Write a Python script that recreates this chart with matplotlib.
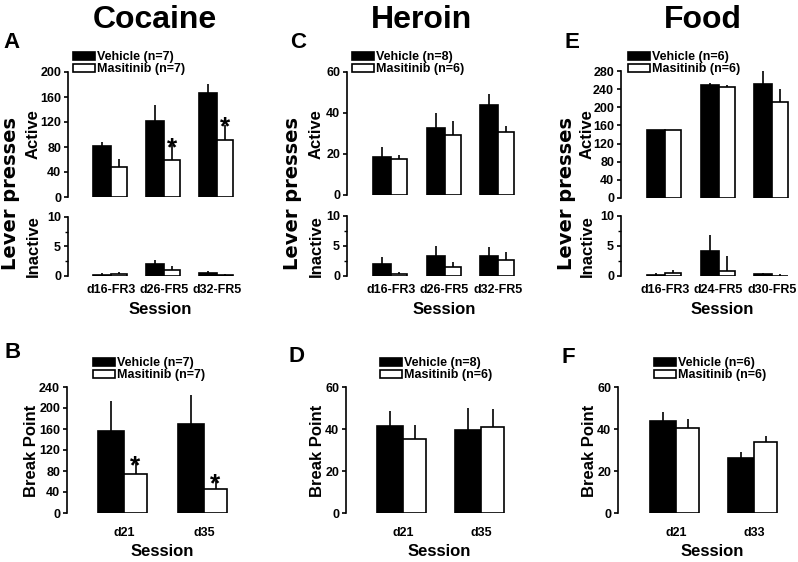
import matplotlib
matplotlib.use('Agg')
import matplotlib.pyplot as plt
from matplotlib.patches import Patch
import numpy as np

# ---------------- data ----------------
coc_sessions = ['d16-FR3', 'd26-FR5', 'd32-FR5']
coc_act_veh = [82, 122, 167]
coc_act_veh_err = [6, 25, 14]
coc_act_mas = [48, 59, 91]
coc_act_mas_err = [13, 24, 25]
coc_inact_veh = [0.15, 2.0, 0.55]
coc_inact_veh_err = [0.3, 0.7, 0.25]
coc_inact_mas = [0.35, 1.05, 0.1]
coc_inact_mas_err = [0.25, 0.6, 0.25]
coc_act_sig = [False, True, True]

her_sessions = ['d16-FR3', 'd26-FR5', 'd32-FR5']
her_act_veh = [18.3, 32.9, 43.9]
her_act_veh_err = [4.9, 7.3, 5.5]
her_act_mas = [17.8, 29.5, 30.8]
her_act_mas_err = [1.8, 6.5, 2.9]
her_inact_veh = [2.05, 3.3, 3.4]
her_inact_veh_err = [1.15, 1.7, 1.4]
her_inact_mas = [0.33, 1.55, 2.6]
her_inact_mas_err = [0.3, 0.75, 1.4]

food_sessions = ['d16-FR3', 'd24-FR5', 'd30-FR5']
food_act_veh = [151, 249, 251]
food_act_veh_err = [0, 5, 29]
food_act_mas = [151, 245, 212]
food_act_mas_err = [0, 5, 28]
food_inact_veh = [0.1, 4.1, 0.3]
food_inact_veh_err = [0.35, 2.7, 0.15]
food_inact_mas = [0.55, 0.8, 0.05]
food_inact_mas_err = [0.45, 2.6, 0.3]

coc_pr_sessions = ['d21', 'd35']
coc_pr_veh = [157, 169]
coc_pr_veh_err = [56, 55]
coc_pr_mas = [74.5, 45.5]
coc_pr_mas_err = [20, 15]
coc_pr_sig = [True, True]

her_pr_sessions = ['d21', 'd35']
her_pr_veh = [41.4, 39.3]
her_pr_veh_err = [7.2, 10.9]
her_pr_mas = [35.2, 40.9]
her_pr_mas_err = [6.6, 8.7]

food_pr_sessions = ['d21', 'd33']
food_pr_veh = [43.6, 26.4]
food_pr_veh_err = [4.4, 2.6]
food_pr_mas = [40.3, 33.6]
food_pr_mas_err = [4.4, 3.0]

titles = ['Cocaine', 'Heroin', 'Food']
letters = ['A', 'B', 'C', 'D', 'E', 'F']
n_coc = (7, 7)
n_her = (8, 6)
n_food = (6, 6)

# ---------------- figure ----------------
W, H = 798, 562
plt.rcParams['font.family'] = ['Liberation Sans', 'DejaVu Sans']
plt.rcParams['font.weight'] = 'bold'
fig = plt.figure(figsize=(W / 100, H / 100), dpi=100)


def fx(x):
    return x / W


def fy(y):
    return 1 - y / H


def add_ax(l, r, t, b):
    return fig.add_axes([l / W, 1 - b / H, (r - l) / W, (b - t) / H])


def draw(ax, veh, veh_err, mas, mas_err, labels, c0, step, l, r, wv, wm,
         ymax, yticks, show_xlabels=True, xpad=5, minor=None, sig=None):
    x = np.arange(len(veh))
    ax.set_xlim((l - c0) / step, (r - c0) / step)
    ax.set_ylim(0, ymax)
    dv = wv / step
    dm = wm / step
    ax.bar(x, veh, width=-dv, align='edge', color='black', edgecolor='black', lw=1.2, zorder=2)
    ax.bar(x, mas, width=dm, align='edge', color='white', edgecolor='black', lw=1.2, zorder=2)
    z = np.zeros(len(veh))
    ax.errorbar(x - dv / 2, veh, yerr=[z, veh_err], fmt='none', ecolor='black',
                elinewidth=1.2, capsize=0, zorder=1, clip_on=False)
    ax.errorbar(x + dm / 2, mas, yerr=[z, mas_err], fmt='none', ecolor='black',
                elinewidth=1.2, capsize=0, zorder=1, clip_on=False)
    if sig is not None:
        for xi, s, m, e in zip(x, sig, mas, mas_err):
            if s:
                ax.annotate('*', xy=(xi + dm / 2, m + e), xytext=(0, -7),
                            textcoords='offset points', ha='center', va='baseline',
                            fontsize=19, fontweight='bold')
    for sp in ['top', 'right', 'bottom']:
        ax.spines[sp].set_visible(False)
    ax.spines['left'].set_linewidth(1.2)
    ax.set_yticks(yticks)
    ax.set_yticklabels([str(t) for t in yticks])
    ax.tick_params(axis='y', length=3, width=1.2, pad=2, labelsize=9)
    if minor is not None:
        ax.set_yticks(minor, minor=True)
        ax.tick_params(axis='y', which='minor', length=2, width=1)
    ax.set_xticks(x)
    if show_xlabels:
        ax.set_xticklabels(labels)
    else:
        ax.set_xticklabels([])
    ax.tick_params(axis='x', length=0, pad=xpad, labelsize=9)
    ax.set_facecolor('none')


def legend(x, y, n):
    handles = [Patch(facecolor='black', edgecolor='black', lw=1.2),
               Patch(facecolor='white', edgecolor='black', lw=1.2)]
    fig.legend(handles, ['Vehicle (n=%d)' % n[0], 'Masitinib (n=%d)' % n[1]],
               loc='upper left', bbox_to_anchor=(fx(x), fy(y)), frameon=False,
               borderpad=0, borderaxespad=0, handlelength=1.75, handleheight=0.62,
               handletextpad=0.15, labelspacing=0.0,
               prop=dict(size=9, weight='bold'))


# ---- top row ----
axA = add_ax(68, 245, 72, 197)
draw(axA, coc_act_veh, coc_act_veh_err, coc_act_mas, coc_act_mas_err, coc_sessions,
     111, 53, 68, 245, 18, 16, 200, [0, 40, 80, 120, 160, 200], show_xlabels=False, sig=coc_act_sig)
axAi = add_ax(68, 245, 217, 276)
draw(axAi, coc_inact_veh, coc_inact_veh_err, coc_inact_mas, coc_inact_mas_err, coc_sessions,
     111, 53, 68, 245, 18, 16, 10, [0, 5, 10], minor=[2.5, 7.5], xpad=6)

axC = add_ax(347, 525, 72, 195)
draw(axC, her_act_veh, her_act_veh_err, her_act_mas, her_act_mas_err, her_sessions,
     391, 53.5, 347, 525, 18, 16, 60, [0, 20, 40, 60], show_xlabels=False)
axCi = add_ax(347, 525, 216, 276)
draw(axCi, her_inact_veh, her_inact_veh_err, her_inact_mas, her_inact_mas_err, her_sessions,
     391, 53.5, 347, 525, 18, 16, 10, [0, 5, 10], minor=[2.5, 7.5], xpad=6)

axE = add_ax(621, 797, 71, 198)
draw(axE, food_act_veh, food_act_veh_err, food_act_mas, food_act_mas_err, food_sessions,
     665, 53.5, 621, 797, 18, 16, 280, [0, 40, 80, 120, 160, 200, 240, 280], show_xlabels=False)
axEi = add_ax(621, 797, 216, 276)
draw(axEi, food_inact_veh, food_inact_veh_err, food_inact_mas, food_inact_mas_err, food_sessions,
     665, 53.5, 621, 797, 18, 16, 10, [0, 5, 10], minor=[2.5, 7.5], xpad=6)

# ---- bottom row ----
axB = add_ax(67, 245, 387, 513)
draw(axB, coc_pr_veh, coc_pr_veh_err, coc_pr_mas, coc_pr_mas_err, coc_pr_sessions,
     124, 80, 67, 245, 26, 23, 240, [0, 40, 80, 120, 160, 200, 240], xpad=10, sig=coc_pr_sig)
axD = add_ax(346, 525, 387, 513)
draw(axD, her_pr_veh, her_pr_veh_err, her_pr_mas, her_pr_mas_err, her_pr_sessions,
     403, 78, 346, 525, 26, 23, 60, [0, 20, 40, 60], xpad=10)
axF = add_ax(618, 797, 387, 513)
draw(axF, food_pr_veh, food_pr_veh_err, food_pr_mas, food_pr_mas_err, food_pr_sessions,
     676, 78, 618, 797, 26, 23, 60, [0, 20, 40, 60], xpad=10)

# ---- legends ----
legend(73, 51, n_coc)
legend(352, 51, n_her)
legend(628, 51, n_food)
legend(93, 357, n_coc)
legend(380, 357, n_her)
legend(654, 357, n_food)

# ---- titles / letters ----
for t, x in zip(titles, [155, 421, 703]):
    fig.text(fx(x), fy(28), t, ha='center', va='baseline', fontsize=23, fontweight='bold')
for L, (x, y) in zip(letters, [(12, 48), (13, 358), (298, 48), (297, 362), (572, 48), (568, 363)]):
    fig.text(fx(x), fy(y), L, ha='center', va='baseline', fontsize=16, fontweight='bold')

# ---- axis labels ----
for xa, xl in [(33, 11), (316, 293), (587, 566)]:
    fig.text(fx(xa), fy(134.5), 'Active', rotation=90, ha='center', va='center', fontsize=12, fontweight='bold')
    fig.text(fx(xa), fy(246.5), 'Inactive', rotation=90, ha='center', va='center', fontsize=12, fontweight='bold')
    fig.text(fx(xl), fy(194), 'Lever presses', rotation=90, ha='center', va='center', fontsize=14,
             fontweight='bold', family=['DejaVu Sans'])
for xb in [32, 317, 590]:
    fig.text(fx(xb), fy(451), 'Break Point', rotation=90, ha='center', va='center', fontsize=12, fontweight='bold')
for xs in [160, 444, 722]:
    fig.text(fx(xs), fy(314.5), 'Session', ha='center', va='baseline', fontsize=12, fontweight='bold')
for xs in [162, 439, 712]:
    fig.text(fx(xs), fy(556.5), 'Session', ha='center', va='baseline', fontsize=12, fontweight='bold')

fig.savefig('out.png', dpi=100, facecolor='white')
